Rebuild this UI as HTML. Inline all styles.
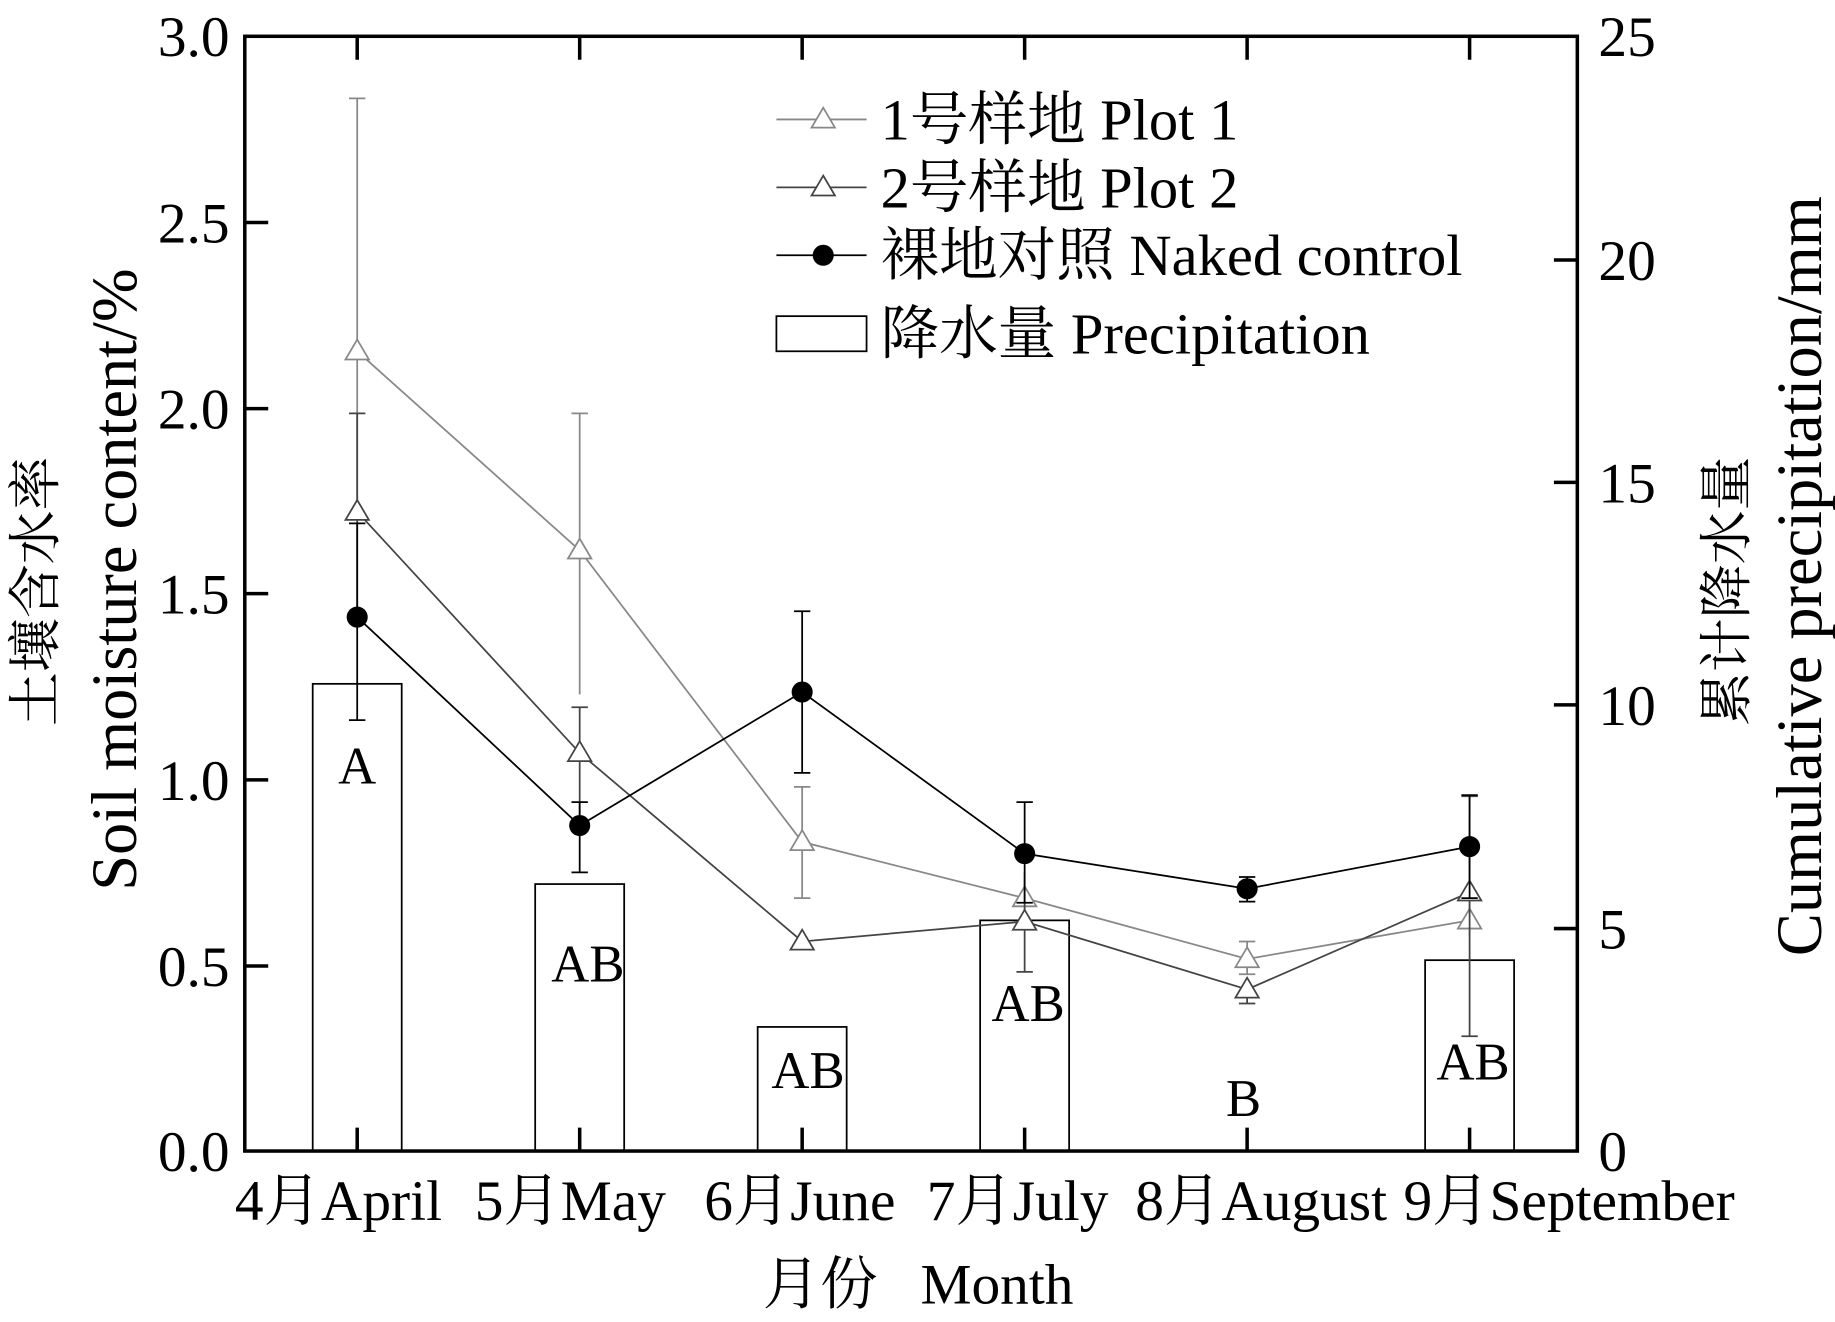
<!DOCTYPE html>
<html><head><meta charset="utf-8"><style>
html,body{margin:0;padding:0;background:#fff;}
svg{display:block;}
text{font-family:"Liberation Serif","Noto Serif CJK SC",serif;fill:#000;}
</style></head><body>
<svg width="1835" height="1322" viewBox="0 0 1567 1129" xmlns="http://www.w3.org/2000/svg">
<g fill="#fff" stroke="#000" stroke-width="1.5">
<rect x="267" y="584" width="76" height="399"/>
<rect x="457" y="755" width="76" height="228"/>
<rect x="647" y="877" width="76" height="106"/>
<rect x="837" y="786" width="76" height="197"/>
<rect x="1217" y="820" width="76" height="163"/>
</g>
<g font-size="45" text-anchor="middle">
<text x="305" y="669">A</text>
<text x="502" y="838">AB</text>
<text x="690" y="929">AB</text>
<text x="878" y="872">AB</text>
<text x="1062" y="953">B</text>
<text x="1258" y="922">AB</text>
</g>
<g stroke="#888" stroke-width="1.5" fill="none">
<path d="M305,84V440M298,84H312M495,353V593M488,353H502M685,672V767M678,672H692M678,767H692M875,755V780M1065,804V832M1058,804H1072M1058,832H1072M1255,700V800"/>
<polyline points="305,300 495,470 685,719 875,767 1065,819 1255,786"/>
<g fill="#fff">
<path d="M305,290l-10,17h20z"/><path d="M495,460l-10,17h20z"/><path d="M685,709l-10,17h20z"/><path d="M875,757l-10,17h20z"/><path d="M1065,809l-10,17h20z"/><path d="M1255,776l-10,17h20z"/>
</g></g>
<g stroke="#444" stroke-width="1.5" fill="none">
<path d="M305,353V520M298,353H312M495,604V700M488,604H502M875,745V830M868,830H882M1065,835V857M1058,857H1072M1255,680V885M1248,680H1262M1248,885H1262"/>
<polyline points="305,437 495,643 685,804 875,787 1065,845 1255,762"/>
<g fill="#fff">
<path d="M305,427l-10,17h20z"/><path d="M495,633l-10,17h20z"/><path d="M685,794l-10,17h20z"/><path d="M875,777l-10,17h20z"/><path d="M1065,835l-10,17h20z"/><path d="M1255,752l-10,17h20z"/>
</g></g>
<g stroke="#000" stroke-width="1.5" fill="none">
<path d="M305,447V615M298,447H312M298,615H312M495,685V745M488,685H502M488,745H502M685,522V660M678,522H692M678,660H692M875,685V771M868,685H882M868,771H882M1065,749V770M1058,749H1072M1058,770H1072M1255,679V767M1248,679H1262M1248,767H1262"/>
<polyline points="305,527 495,705 685,591 875,729 1065,759 1255,723"/>
</g>
<g fill="#000"><circle cx="305" cy="527" r="9"/><circle cx="495" cy="705" r="9"/><circle cx="685" cy="591" r="9"/><circle cx="875" cy="729" r="9"/><circle cx="1065" cy="759" r="9"/><circle cx="1255" cy="723" r="9"/></g>
<rect x="209" y="31" width="1138" height="952" fill="none" stroke="#000" stroke-width="3"/>
<g stroke="#000" stroke-width="3">
<path d="M305,983v-20M495,983v-20M685,983v-20M875,983v-20M1065,983v-20M1255,983v-20M305,31v20M495,31v20M685,31v20M875,31v20M1065,31v20M1255,31v20"/>
<path d="M209,190h20M209,349h20M209,507h20M209,666h20M209,825h20M1347,222h-20M1347,412h-20M1347,602h-20M1347,793h-20"/>
</g>
<g font-size="49" text-anchor="end">
<text x="196" y="48">3.0</text><text x="196" y="207">2.5</text><text x="196" y="366">2.0</text><text x="196" y="524">1.5</text><text x="196" y="683">1.0</text><text x="196" y="842">0.5</text><text x="196" y="1000">0.0</text>
</g>
<g font-size="49">
<text x="1365" y="48">25</text><text x="1365" y="239">20</text><text x="1365" y="429">15</text><text x="1365" y="619">10</text><text x="1365" y="810">5</text><text x="1365" y="1000">0</text>
</g>
<g font-size="49" text-anchor="middle">
<text x="289" y="1042">4月April</text><text x="487" y="1042">5月May</text><text x="683" y="1042">6月June</text><text x="869" y="1042">7月July</text><text x="1077" y="1042">8月August</text><text x="1340" y="1042">9月September</text>
<text x="784" y="1113" xml:space="preserve">月份   Month</text>
</g>
<text font-size="46" text-anchor="middle" transform="translate(46,505) rotate(-90)">土壤含水率</text>
<text font-size="55" text-anchor="middle" transform="translate(116,495) rotate(-90)">Soil moisture content/%</text>
<text font-size="46" text-anchor="middle" transform="translate(1490,505) rotate(-90)">累计降水量</text>
<text font-size="55" text-anchor="middle" transform="translate(1555,492) rotate(-90)">Cumulative precipitation/mm</text>
<g stroke-width="1.5">
<line x1="663" y1="102" x2="740" y2="102" stroke="#888"/><path d="M703,92l-10,17h20z" fill="#fff" stroke="#888"/>
<line x1="663" y1="160" x2="740" y2="160" stroke="#444"/><path d="M703,150l-10,17h20z" fill="#fff" stroke="#444"/>
<line x1="663" y1="218" x2="740" y2="218" stroke="#000"/><circle cx="703" cy="218" r="9" fill="#000"/>
<rect x="663" y="270" width="77" height="30" fill="#fff" stroke="#000"/>
</g>
<g font-size="50">
<text x="752" y="119">1号样地 Plot 1</text>
<text x="752" y="177">2号样地 Plot 2</text>
<text x="752" y="235">裸地对照 Naked control</text>
<text x="752" y="302">降水量 Precipitation</text>
</g>
</svg>
</body></html>
